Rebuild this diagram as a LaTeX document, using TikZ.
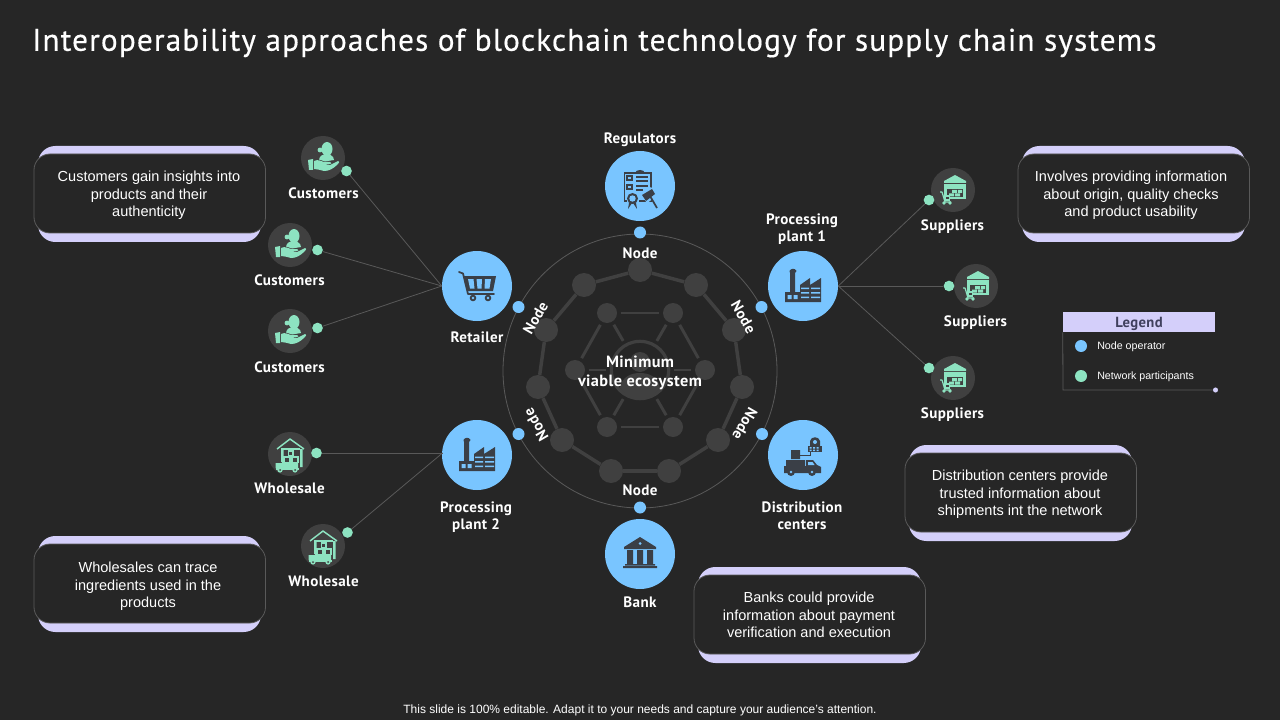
\documentclass[tikz,border=0pt]{standalone}
\usepackage{fontspec}
\setmainfont{Liberation Sans}
\newfontfamily\labfont[LetterSpace=2.5]{PT Sans}
\newfontfamily\titlefont[LetterSpace=3.55,RawFeature={embolden=0.4}]{PT Sans}
\definecolor{bgc}{HTML}{262626}
\definecolor{bluec}{HTML}{79C5FF}
\definecolor{greenc}{HTML}{8DE3C1}
\definecolor{purp}{HTML}{D4CFFA}
\definecolor{grayc}{HTML}{404040}
\definecolor{linec}{HTML}{595959}
\definecolor{darkic}{HTML}{3A3F47}
\definecolor{legc}{HTML}{40405E}
\tikzset{
  bigblue/.style={circle,fill=bluec,minimum size=52.5pt,inner sep=0pt},
  smallgray/.style={circle,fill=grayc,minimum size=33pt,inner sep=0pt},
  bdot/.style={circle,fill=bluec,minimum size=9pt,inner sep=0pt},
  gdot/.style={circle,fill=greenc,minimum size=8pt,inner sep=0pt},
  onode/.style={circle,fill=grayc,minimum size=18pt,inner sep=0pt},
  inode/.style={circle,fill=grayc,minimum size=15pt,inner sep=0pt},
  ring/.style={draw=grayc,line width=2.6pt},
  thin ring/.style={draw=grayc,line width=2.2pt,shorten >=2.5pt,shorten <=2.5pt},
  conn/.style={draw=linec,line width=0.6pt},
  lab/.style={text=white,font=\labfont\bfseries\fontsize{11.3}{12.9}\selectfont,align=center,inner sep=0pt},
  hublab/.style={text=white,font=\labfont\bfseries\fontsize{12.2}{14.3}\selectfont,align=center,inner sep=0pt},
  body/.style={text=white,font=\fontsize{10.9}{13.1}\selectfont,align=center,inner sep=0pt},
  legtxt/.style={text=white,font=\fontsize{8}{9}\selectfont,anchor=west,inner sep=0pt},
  purpbar/.style={fill=purp,rounded corners=13pt},
  cbox/.style={fill=bgc,draw=linec,line width=0.6pt,rounded corners=12pt},
  pics/factoryicon/.style={code={
    \fill[darkic] (-13.5,-15) .. controls (-12,-18) and (-8,-18) .. (-6.5,-15) -- (-8,-13) -- (-8,6) -- (-13,6) -- (-13,-13) -- cycle;
    \fill[darkic] (-18,6) -- (-3,6) -- (-3,-1) -- (7,-8) -- (7,-1) -- (18,-8) -- (18,16) -- (-18,16) -- cycle;
    \fill[bluec] (-15.5,9) rectangle (-11.5,13) (-9.5,9) rectangle (-5.5,13);
    \fill[bluec] (-2,1.5) rectangle (6,3) (8,1.5) rectangle (17,3) (-2,6) rectangle (6,7.5) (8,6) rectangle (17,7.5) (-2,10.5) rectangle (6,12) (8,10.5) rectangle (17,12);
  }},
  pics/carticon/.style={code={
    \draw[darkic,line width=1.3pt,line cap=round,line join=round] (-18,-14) -- (-14,-12.5) -- (-9,8) -- (17,8);
    \fill[darkic] (-13,-10) -- (19,-10) -- (16,5) -- (-9.5,5) -- cycle;
    \fill[bluec] (-9,-7) -- (-3.5,-7) -- (-2.5,2.5) -- (-7,2.5) -- cycle (-0.5,-7) -- (5,-7) -- (4.5,2.5) -- (0.5,2.5) -- cycle (8,-7) -- (14,-7) -- (12.5,2.5) -- (7.5,2.5) -- cycle;
    \fill[darkic] (-4,12) circle (3.3) (11,12) circle (3.3);
    \fill[bluec] (-4,12) circle (1.3) (11,12) circle (1.3);
  }},
  pics/clipicon/.style={code={
    \fill[darkic] (-5,-13) .. controls (-4,-17) and (4,-17) .. (5,-13) -- cycle;
    \draw[darkic,line width=0.9pt] (-15.5,-13) rectangle (11,15);
    \draw[darkic,line width=0.8pt] (-13,-10) rectangle (-8,-6) (-13,-1) rectangle (-8,3);
    \draw[darkic,line width=1pt] (-4,-9) -- (8,-9) (-4,-5) -- (8,-5) (-4,0) -- (8,0) (-4,4) -- (3,4);
    \fill[bluec] (-13,7) rectangle (-1,18);
    \fill[darkic] (-7.5,12.5) circle (5.5);
    \fill[bluec] (-7.5,12.5) circle (3.2);
    \fill[darkic] (-11,17) -- (-8,17) -- (-12,23) -- cycle (-4,17) -- (-7,17) -- (-3,23) -- cycle;
    \fill[bluec] (1,9) -- (11,1) -- (17,10) -- (7,17) -- cycle;
    \fill[darkic] (2,9) -- (12,3) -- (15,8) -- (6,15) -- cycle;
    \draw[darkic,line width=1.3pt] (10,10) -- (17,22);
  }},
  pics/bankicon/.style={code={
    \fill[darkic] (-16,-6) -- (0,-16) -- (16,-6) -- (16,-4) -- (-16,-4) -- cycle;
    \fill[darkic] (-13,-3) rectangle (-7,11) (-3,-3) rectangle (3,11) (7,-3) rectangle (13,11);
    \fill[darkic] (-15,11) rectangle (15,12.5) (-17,13) rectangle (17,15);
    \fill[bluec] (0,-9.5) circle (1.5);
  }},
  pics/truckicon/.style={code={
    \fill[darkic] (-12,-5) rectangle (-3,4) (-17,5) rectangle (2,11);
    \fill[darkic] (-19,11) -- (3,11) -- (3,5) -- (10,5) -- (14,10) -- (18,12) -- (18,18) -- (-19,18) -- cycle;
    \fill[bluec] (5,7) -- (9.5,7) -- (11.5,10) -- (5,10) -- cycle;
    \fill[darkic] (-12,17) circle (4) (9,17) circle (4);
    \fill[bluec] (-12,17) circle (1.4) (9,17) circle (1.4);
    \draw[darkic,line width=0.5pt] (-3,0) -- (7,0) -- (7,-3);
    \fill[darkic] (4.5,-9) rectangle (19,-3);
    \fill[darkic] (7,-9) -- (7,-14) .. controls (8,-19) and (16,-19) .. (17,-14) -- (17,-9) -- cycle;
    \fill[bluec] (6.5,-8) rectangle (8.5,-6.5) (10,-8) rectangle (12,-6.5) (13.5,-8) rectangle (15.5,-6.5) (6.5,-5.5) rectangle (8.5,-4) (10,-5.5) rectangle (12,-4) (13.5,-5.5) rectangle (15.5,-4);
    \fill[bluec] (12,-13) circle (2);
  }},
  pics/custicon/.style={code={
    \fill[greenc] (4,-9) ellipse (5.5 and 7);
    \fill[greenc] (-4,1.5) .. controls (-3,-2) and (-1,-3.5) .. (1,-3.5) -- (7,-3.5) .. controls (10,-2) and (11,0) .. (11,2) -- (2,3.5) -- cycle;
    \fill[greenc] (-3,-8) circle (2.4);
    \fill[greenc] (-15,2) -- (-10,1) -- (-10,12) -- (-14,12) -- cycle;
    \fill[greenc] (-9,3) .. controls (-5,1) and (-2,3) .. (1,4) -- (7,4) .. controls (9,4.5) and (9,6) .. (6,6) -- (1,6.5) -- (7,7) -- (15,3) .. controls (17,3) and (16,5) .. (15,6) .. controls (10,11) and (6,13) .. (1,13) .. controls (-3,12) and (-6,11) .. (-9,11) -- cycle;
  }},
  pics/wareicon/.style={code={
    \fill[greenc] (-9,-9) -- (2,-15) -- (13,-9) -- (13,-7) -- (-9,-7) -- cycle;
    \fill[greenc] (-9,-6) rectangle (13,9);
    \fill[grayc] (-6,-1) rectangle (10,7);
    \fill[greenc] (-1,-0) rectangle (4,3) (-4,3.5) rectangle (1,6.5) (2,3.5) rectangle (7,6.5) (5,0) rectangle (9,3);
    \draw[greenc,line width=0.9pt,line join=round] (-13,2) -- (-11,2) -- (-8,12) -- (-2,12);
    \fill[greenc] (-9,5) rectangle (-3,11);
    \fill[greenc] (-9,13) circle (1.9) (-3,13) circle (1.9);
    \fill[grayc] (-7.5,7) rectangle (-4.5,9);
  }},
  pics/wholeicon/.style={code={
    \draw[greenc,line width=1.1pt,line join=round] (-13,-5) -- (0,-15) -- (14,-5);
    \draw[greenc,line width=1.1pt] (-9,-5) -- (9.5,-5);
    \fill[greenc] (-9,-4) rectangle (-6.5,8) (10,-5) rectangle (12.5,13);
    \draw[greenc,line width=0.8pt] (-1.5,-3) rectangle (3,2) (-6,3) rectangle (0,8.5) (2,3) rectangle (8,8.5);
    \fill[greenc] (-14.5,9) rectangle (-8,14) (-8,8) rectangle (8,14);
    \draw[greenc,line width=0.8pt] (-14.5,15) -- (9,15);
    \fill[greenc] (-14.5,15) rectangle (9,16);
    \fill[greenc] (-10,16) circle (2.6) (5,16) circle (2.6);
    \fill[grayc] (-10,16) circle (1) (5,16) circle (1);
  }}
}
\begin{document}
\begin{tikzpicture}[x=0.75pt,y=-0.75pt]
\fill[bgc] (0,0) rectangle (1280,720);
\useasboundingbox (0,0) rectangle (1280,720);

% title & footer
\node[anchor=west,inner sep=0pt,text=white,font=\titlefont\fontsize{23.5}{28}\selectfont] (title) at (32,43) {Interoperability approaches of blockchain technology for supply chain systems};
\node[text=white,font=\fontsize{9}{11}\selectfont,inner sep=0pt] (foot) at (640,710) {This slide is 100\% editable. Adapt it to your needs and capture your audience's attention.};

% outer circle
\node[circle,draw=linec,line width=0.6pt,minimum size=205.5pt,inner sep=0pt] (rim) at (640,371) {};

% hub ring
\foreach \n/\x/\y in {o1/640/270,o2/696/285,o3/734/330,o4/742/387,o5/718/440,o6/669/471,o7/611/471,o8/562/440,o9/538/387,o10/546/330,o11/584/285}
  \node[onode] (\n) at (\x,\y) {};
\foreach \a/\b in {o1/o2,o2/o3,o3/o4,o4/o5,o5/o6,o6/o7,o7/o8,o8/o9,o9/o10,o10/o11,o11/o1}
  \draw[ring] (\a) -- (\b);
\foreach \n/\x/\y in {i1/607/313,i2/673/313,i3/705/370,i4/673/427,i5/607/427,i6/575/370}
  \node[inode] (\n) at (\x,\y) {};
\node[circle,draw=grayc,line width=2.4pt,minimum size=43pt,inner sep=0pt] (hub) at (640,370) {};
\foreach \a/\b in {i1/i2,i2/i3,i3/i4,i4/i5,i5/i6,i6/i1,i1/hub,i2/hub,i3/hub,i4/hub,i5/hub,i6/hub}
  \draw[thin ring] (\a) -- (\b);
\fill[grayc] (640,362) circle (10);
\fill[grayc] (620,388) .. controls (622,376) and (632,373) .. (640,373) .. controls (648,373) and (658,376) .. (660,388) .. controls (654,396) and (647,399) .. (640,399) .. controls (633,399) and (626,396) .. (620,388) -- cycle;
\node[hublab] (hubtxt) at (640,372.5) {Minimum\\viable ecosystem};

% connectors' end points
\node[bigblue] (reg) at (640,186) {};
\node[bigblue] (ret) at (477,286) {};
\node[bigblue] (pp1) at (803,286) {};
\node[bigblue] (pp2) at (477,455) {};
\node[bigblue] (dis) at (803,455) {};
\node[bigblue] (bank) at (640,554) {};
\coordinate (pp2in) at (442.5,453);
\foreach \n/\x/\y in {d1/640/232.5,d2/518.5/307,d3/761.5/307,d4/518.5/434,d5/762/434,d6/640/507.5}
  \node[bdot] (\n) at (\x,\y) {};

\foreach \n/\x/\y in {c1/323/158,c2/290/245,c3/290/331,s1/953/190,s2/976/286,s3/953/378,w1/290/454,w2/323/546}
  \node[smallgray] (\n) at (\x,\y) {};
\foreach \n/\x/\y in {c1d/346.5/171,c2d/317.5/250,c3d/317.5/328,s1d/929/200,s2d/949/286,s3d/929/368,w1d/316.5/453,w2d/347.5/532.5}
  \node[gdot] (\n) at (\x,\y) {};
\foreach \a in {c1d,c2d,c3d} \draw[conn] (\a) -- (ret.west);
\foreach \a in {s1d,s2d,s3d} \draw[conn] (\a) -- (pp1.east);
\foreach \a in {w1d,w2d} \draw[conn] (\a) -- (pp2in);

% icons
\pic at (640,186) {clipicon};
\pic at (477,286) {carticon};
\pic at (803,286) {factoryicon};
\pic at (477,455) {factoryicon};
\pic at (803,455) {truckicon};
\pic at (640,553) {bankicon};
\foreach \x/\y in {323/158,290/245,290/331} \pic at (\x,\y) {custicon};
\foreach \x/\y in {953/190,976/286,953/378} \pic at (\x,\y) {wareicon};
\foreach \x/\y in {290/454,323/546} \pic at (\x,\y) {wholeicon};

% labels
\node[lab] (lreg) at (640,140) {Regulators};
\node[lab] (lpp1) at (802,229) {Processing\\plant 1};
\node[lab] (lret) at (477,337) {Retailer};
\node[lab] (lpp2) at (476,517) {Processing\\plant 2};
\node[lab] (ldis) at (802,516) {Distribution\\centers};
\node[lab] (lbank) at (640,602) {Bank};
\node[lab] (lc1) at (323.5,193) {Customers};
\node[lab] (lc2) at (289.5,280) {Customers};
\node[lab] (lc3) at (289.5,367) {Customers};
\node[lab] (ls1) at (952.5,227) {Suppliers};
\node[lab] (ls2) at (975.5,323) {Suppliers};
\node[lab] (ls3) at (952.5,415) {Suppliers};
\node[lab] (lw1) at (289.5,488) {Wholesale};
\node[lab] (lw2) at (323.5,581) {Wholesale};
\node[lab] (n1) at (640,253) {Node};
\node[lab] (n6) at (640,490) {Node};
\node[lab,rotate=60] (n2) at (535.5,318) {Node};
\node[lab,rotate=-60] (n3) at (743.5,317) {Node};
\node[lab,rotate=120] (n4) at (536,425) {Node};
\node[lab,rotate=-120] (n5) at (745,424) {Node};

% callouts
\foreach \x/\ya in {34/146,1018/146,905/445,694/567,34/536}{
  \fill[purpbar] (\x+4,\ya) rectangle ++(223,96);
  \draw[cbox] (\x,\ya+8) rectangle ++(231.5,79);
}
\node[body] (t1) at (149,195.5) {Customers gain insights into\\products and their\\authenticity};
\node[body] (t2) at (1131,195.5) {Involves providing information\\about origin, quality checks\\and product usability};
\node[body] (t3) at (1020,494.5) {Distribution centers provide\\trusted information about\\shipments int the network};
\node[body] (t4) at (809,615) {Banks could provide\\information about payment\\verification and execution};
\node[body] (t5) at (148,586.5) {Wholesales can trace\\ingredients used in the\\products};

% legend
\node[fill=purp,minimum width=114pt,minimum height=15pt,inner sep=0pt] (leg) at (1139,322) {};
\node[text=legc,inner sep=0pt,font=\labfont\bfseries\fontsize{11}{12}\selectfont] (legt) at (1139,324) {Legend};
\node[circle,fill=purp,minimum size=3.8pt,inner sep=0pt] (legd) at (1215.5,390) {};
\coordinate (legc) at (1063,390);
\draw[conn] (leg.south west) -- (legc) -- (legd);
\node[bdot] (lb) at (1081,346) {};
\node[bdot,fill=greenc] (lg) at (1081,376) {};
\node[legtxt] (lbt) at (1097,347) {Node operator};
\node[legtxt] (lgt) at (1097,377) {Network participants};
\end{tikzpicture}
\end{document}
